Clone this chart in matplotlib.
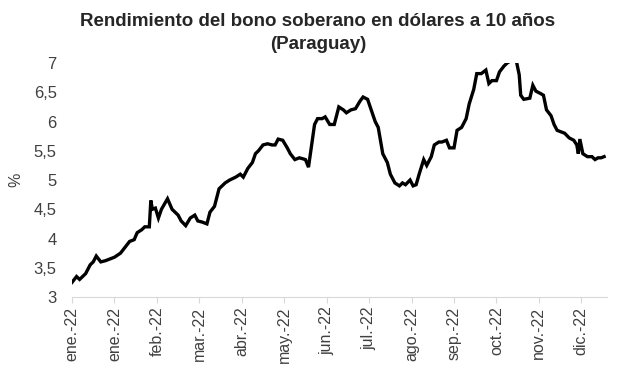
import datetime as dt
import matplotlib.pyplot as plt
from matplotlib.ticker import FuncFormatter

# days since 1 Jan 2022
dias = [0, 3, 5, 9, 12, 14, 16, 19, 22, 25, 28, 32, 35, 38, 41, 43, 46, 48, 51, 52,
        53, 55, 57, 59, 63, 66, 68, 70, 72, 75, 78, 81, 83, 86, 89, 91, 94, 97, 101, 104,
        108, 111, 113, 116, 119, 121, 123, 126, 129, 132, 134, 136, 139, 142, 144, 147, 150, 154, 156, 160,
        162, 165, 167, 170, 173, 176, 179, 181, 184, 187, 190, 192, 195, 198, 200, 202, 205, 208, 210, 213,
        216, 218, 220, 223, 225, 227, 229, 232, 234, 237, 239, 242, 244, 247, 249, 252, 254, 257, 260, 262,
        265, 267, 270, 273, 275, 277, 280, 282, 285, 287, 290, 293, 295, 296, 298, 302, 304, 306, 309, 311,
        313, 316, 318, 320, 323, 325, 328, 331, 333, 334, 335, 337, 340, 343, 345, 347, 349, 351]
rendimiento = [3.25, 3.35, 3.3, 3.4, 3.55, 3.6, 3.7, 3.6, 3.62, 3.65, 3.68, 3.75, 3.85, 3.95, 3.98, 4.1, 4.15, 4.2, 4.2, 4.65,
               4.5, 4.52, 4.35, 4.5, 4.68, 4.5, 4.45, 4.4, 4.3, 4.22, 4.35, 4.4, 4.3, 4.28, 4.25, 4.45, 4.55, 4.85, 4.95, 5.0,
               5.05, 5.1, 5.05, 5.2, 5.3, 5.45, 5.5, 5.6, 5.62, 5.6, 5.6, 5.7, 5.68, 5.55, 5.45, 5.35, 5.38, 5.35, 5.22, 5.95,
               6.05, 6.05, 6.08, 5.95, 5.95, 6.25, 6.2, 6.15, 6.2, 6.22, 6.35, 6.42, 6.38, 6.15, 6.0, 5.9, 5.45, 5.3, 5.1, 4.95,
               4.9, 4.95, 4.92, 5.0, 4.9, 4.92, 5.1, 5.35, 5.25, 5.4, 5.6, 5.65, 5.65, 5.68, 5.55, 5.55, 5.85, 5.9, 6.05, 6.3,
               6.55, 6.82, 6.82, 6.88, 6.65, 6.7, 6.7, 6.85, 6.95, 7.0, 7.05, 7.05, 6.8, 6.45, 6.38, 6.4, 6.62, 6.52, 6.48, 6.45,
               6.2, 6.1, 5.95, 5.85, 5.82, 5.8, 5.72, 5.68, 5.6, 5.45, 5.7, 5.45, 5.4, 5.4, 5.35, 5.38, 5.38, 5.4]
etiquetas = ['ene.-22', 'ene.-22', 'feb.-22', 'mar.-22', 'abr.-22', 'may.-22', 'jun.-22',
             'jul.-22', 'ago.-22', 'sep.-22', 'oct.-22', 'nov.-22', 'dic.-22']

plt.rcParams['font.family'] = ['Liberation Sans', 'DejaVu Sans']

inicio = dt.date(2022, 1, 1)
fechas = [inicio + dt.timedelta(days=d) for d in dias]
ticks = [inicio + dt.timedelta(days=28 * i) for i in range(len(etiquetas))]

fig = plt.figure(figsize=(6.17, 3.87), dpi=100)
ax = fig.add_axes([0.1167, 0.2326, 0.8673, 0.6044])
ax.plot(fechas, rendimiento, color='black', lw=2.4, solid_joinstyle='miter')

ax.set_ylim(3, 7)
ax.set_xlim(inicio, inicio + dt.timedelta(days=353))
ax.set_yticks([3, 3.5, 4, 4.5, 5, 5.5, 6, 6.5, 7])
ax.yaxis.set_major_formatter(FuncFormatter(lambda v, p: ('%g' % v).replace('.', ',')))
ax.set_xticks(ticks)
ax.set_xticklabels(etiquetas, rotation=90)

for s in ['top', 'right', 'left']:
    ax.spines[s].set_visible(False)
ax.spines['bottom'].set_color('#d9d9d9')
ax.tick_params(axis='y', length=0, labelsize=12, colors='#404040', pad=11)
ax.tick_params(axis='x', length=4, color='#d9d9d9', labelsize=11.5, labelcolor='#404040', pad=3)
ax.set_ylabel('%', fontsize=11.5, color='#404040')
ax.yaxis.set_label_coords(-0.09, 0.5)

fig.text(0.515, 0.967, 'Rendimiento del bono soberano en dólares a 10 años\n(Paraguay)',
         ha='center', va='top', fontsize=13.5, fontweight='bold', color='#262626', linespacing=1.45)

plt.savefig('out.png', dpi=100)
